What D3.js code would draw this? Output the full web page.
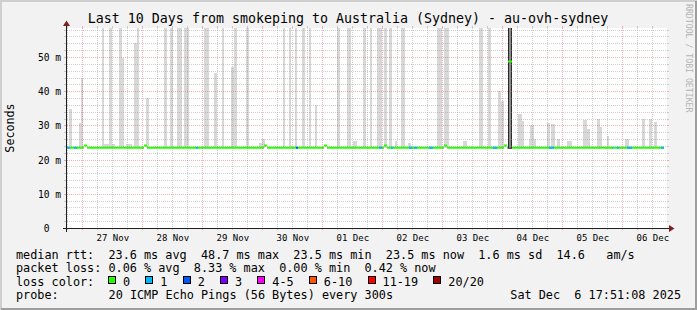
<!DOCTYPE html>
<html>
<head>
<meta charset="utf-8">
<script src="https://cdn.jsdelivr.net/npm/d3@7"></script>
<style>
body { margin: 0; background: #f2f2f2; }
svg { display: block; font-family: "DejaVu Sans Mono", monospace; }
text { white-space: pre; }
</style>
</head>
<body>
<script>
const WIDTH = 697;
const HEIGHT = 310;
const X0 = 67, X1 = 667, Y0 = 228, Y1 = 28;

// last sample: Sat Dec 6 17:51:08 2025, window of 10 days
const END = Date.UTC(2025, 11, 6, 17, 51, 8);
const START = END - 10 * 864e5;

var title = 'Last 10 Days from smokeping to Australia (Sydney) - au-ovh-sydney';
var dayLabels = ['27 Nov', '28 Nov', '29 Nov', '30 Nov', '01 Dec', '02 Dec', '03 Dec', '04 Dec', '05 Dec', '06 Dec'];
var yTicks = [0, 10, 20, 30, 40, 50];

// smoke: [from hour, to hour, highest ping ms], hours counted from START
var smokeMin = 23.3;
var smokeBars = [
  [0.8, 2.0, 34.8], [4.8, 5.6, 30.7], [5.6, 6.4, 44.0], [14.0, 14.8, 60],
  [14.8, 19.2, 24.6], [16.8, 18.0, 60], [20.8, 22.0, 60], [22.0, 22.8, 49.6],
  [23.6, 26.0, 24.6], [26.8, 28.0, 54.0], [28.0, 28.8, 60], [31.6, 32.8, 37.9],
  [38.8, 40.0, 60], [41.2, 42.4, 60], [44.0, 46.0, 60], [46.8, 48.8, 60],
  [54.8, 56.8, 60], [58.8, 60.0, 45.2], [62.0, 62.8, 60], [65.6, 66.8, 47.2],
  [66.8, 68.0, 60], [71.6, 72.8, 60], [76.8, 78.0, 24.9], [78.0, 79.2, 26.0],
  [86.4, 87.2, 60], [88.8, 89.6, 60], [91.2, 92.0, 60], [94.0, 95.2, 60],
  [96.8, 97.6, 60], [99.2, 100.0, 36.0], [108.0, 109.2, 60], [112.0, 113.6, 60],
  [114.4, 116.0, 25.3], [118.4, 119.6, 60], [121.2, 122.0, 60], [124.0, 126.0, 60],
  [126.8, 128.0, 60], [128.8, 130.0, 60], [131.2, 132.0, 25.3], [133.6, 135.2, 60],
  [136.4, 137.6, 25.0], [148.0, 150.0, 60], [150.8, 152.8, 60], [158.4, 160.0, 25.4],
  [164.8, 166.4, 60], [168.4, 169.6, 60], [172.4, 173.6, 40.0], [173.6, 174.8, 37.0],
  [180.4, 182.0, 33.3], [182.0, 182.8, 31.3], [184.8, 187.6, 26.0], [185.2, 186.8, 30.0],
  [192.0, 193.2, 30.6], [193.6, 195.2, 30.4], [196.0, 197.2, 26.0], [200.0, 202.0, 25.5],
  [206.4, 208.0, 31.5], [208.0, 209.2, 29.0], [212.0, 213.2, 32.0], [213.2, 214.0, 29.5],
  [216.0, 216.8, 27.0], [223.2, 224.8, 26.0], [230.0, 231.2, 32.0], [232.8, 234.0, 32.0],
  [234.8, 236.0, 31.0]
];
var denseSmoke = [[176.4, 178.0, 60]];

// median rtt steps: [hour, ms], each value holds until the next hour
var medianPoints = [
  [0, 23.5], [6.8, 24.1], [8.0, 23.5], [30.8, 24.1], [32.0, 23.5],
  [78.8, 24.1], [80.0, 23.5], [102.8, 24.1], [104.0, 23.5], [126.8, 24.1],
  [128.0, 23.5], [150.8, 24.1], [152.0, 23.5], [174.8, 24.1], [176.0, 23.5],
  [176.4, 48.7], [178.0, 23.5], [238.8, 23.5]
];
// pings lost: [from hour, to hour, lost count]
var lossSpans = [
  [0.0, 1.2, 1], [2.8, 4.0, 1], [51.6, 52.4, 1], [91.6, 92.4, 2],
  [124.8, 126.0, 1], [129.6, 130.4, 1], [136.8, 138.0, 1], [138.8, 140.0, 1],
  [144.8, 146.4, 1], [170.4, 172.0, 1], [192.8, 194.8, 1], [218.0, 218.4, 1],
  [220.0, 220.8, 1], [224.0, 226.0, 1], [237.6, 238.8, 1]
];
var lossLabels = ['0', '1', '2', '3', '4-5', '6-10', '11-19', '20/20'];
var lossColors = ['#26ff00', '#00b8ff', '#0059ff', '#7e00ff', '#ff00ff', '#ff5500', '#ff0000', '#a00000'];

var legendRtt = 'median rtt:  23.6 ms avg  48.7 ms max  23.5 ms min  23.5 ms now  1.6 ms sd  14.6   am/s';
var legendLoss = 'packet loss: 0.06 % avg  8.33 % max  0.00 % min  0.42 % now';
var probeText = '20 ICMP Echo Pings (56 Bytes) every 300s';
var stampText = 'Sat Dec  6 17:51:08 2025';

var hourDate = function (h) { return new Date(START + h * 36e5); };

var svg = d3.select('body').append('svg')
    .attr('width', WIDTH)
    .attr('height', HEIGHT);

// frame
svg.append('rect').attr('width', WIDTH).attr('height', HEIGHT).attr('fill', '#f2f2f2');
svg.append('path').attr('d', 'M1,' + HEIGHT + 'V1H' + WIDTH).attr('fill', 'none')
    .attr('stroke', '#cfcfcf').attr('stroke-width', 2);
svg.append('path').attr('d', 'M1,' + (HEIGHT - 1) + 'H' + (WIDTH - 1) + 'V1').attr('fill', 'none')
    .attr('stroke', '#9e9e9e').attr('stroke-width', 2);

var xScale = d3.scaleUtc().domain([START, END]).range([X0, X1]);
var yScale = d3.scaleLinear().domain([0, 200 / 3.42]).range([Y0, Y1]);

svg.append('rect')
    .attr('x', X0).attr('y', Y1)
    .attr('width', X1 - X0).attr('height', Y0 - Y1)
    .attr('fill', '#fff');

svg.append('clipPath').attr('id', 'plot')
    .append('rect').attr('x', X0).attr('y', Y1).attr('width', X1 - X0).attr('height', Y0 - Y1);

var plot = svg.append('g').attr('clip-path', 'url(#plot)');

plot.selectAll('rect.smoke')
    .data(smokeBars)
    .enter().append('rect')
    .classed('smoke', true)
    .attr('x', function (d) { return xScale(hourDate(d[0])); })
    .attr('width', function (d) { return xScale(hourDate(d[1])) - xScale(hourDate(d[0])); })
    .attr('y', function (d) { return yScale(d[2]); })
    .attr('height', function (d) { return yScale(smokeMin) - yScale(d[2]); })
    .attr('fill', '#d8d8d8')
    .attr('shape-rendering', 'crispEdges');

plot.selectAll('rect.dense')
    .data(denseSmoke)
    .enter().append('rect')
    .classed('dense', true)
    .attr('x', function (d) { return xScale(hourDate(d[0])) + 0.5; })
    .attr('width', function (d) { return xScale(hourDate(d[1])) - xScale(hourDate(d[0])) - 1; })
    .attr('y', function (d) { return yScale(d[2]); })
    .attr('height', function (d) { return yScale(smokeMin) - yScale(d[2]); })
    .attr('fill', '#8a8a8a')
    .attr('stroke', '#2a2a2a');

// grid
var gridMinor = 'rgba(143,143,143,0.42)';
var gridMajor = 'rgba(222,79,79,0.42)';
var grid = svg.append('g').attr('shape-rendering', 'crispEdges');

d3.range(2, 59, 2).forEach(function (v) {
  var yy = Math.round(yScale(v)) + 0.5;
  var col = v % 10 === 0 ? gridMajor : gridMinor;
  grid.append('line').attr('x1', X0).attr('x2', X1).attr('y1', yy).attr('y2', yy)
      .attr('stroke', col).attr('stroke-dasharray', '1,1');
  grid.append('line').attr('x1', X0 - 3).attr('x2', X0).attr('y1', yy).attr('y2', yy).attr('stroke', col);
  grid.append('line').attr('x1', X1).attr('x2', X1 + 2).attr('y1', yy).attr('y2', yy).attr('stroke', col);
});

d3.utcHour.every(6).range(new Date(START), new Date(END)).forEach(function (t) {
  var xx = Math.round(xScale(t)) + 0.5;
  var col = t.getUTCHours() === 0 ? gridMajor : gridMinor;
  grid.append('line').attr('x1', xx).attr('x2', xx).attr('y1', Y1).attr('y2', Y0)
      .attr('stroke', col).attr('stroke-dasharray', '1,1');
  grid.append('line').attr('x1', xx).attr('x2', xx).attr('y1', Y1 - 2).attr('y2', Y1).attr('stroke', col);
  grid.append('line').attr('x1', xx).attr('x2', xx).attr('y1', Y0).attr('y2', Y0 + 2).attr('stroke', col);
});

// median: one flat piece per step, coloured by loss
var line = d3.line()
    .x(function (d) { return xScale(hourDate(d[0])); })
    .y(function (d) { return yScale(d[1]); });
var medianPath = d3.pairs(medianPoints).map(function (p) {
  return line([[p[0][0], p[0][1]], [p[1][0], p[0][1]]]);
}).join('');

plot.append('path')
    .attr('d', medianPath)
    .attr('fill', 'none')
    .attr('stroke', lossColors[0])
    .attr('stroke-width', 2);

lossSpans.forEach(function (s, i) {
  var x0 = xScale(hourDate(s[0])), x1 = xScale(hourDate(s[1]));
  svg.append('clipPath').attr('id', 'loss' + i)
      .append('rect').attr('x', x0).attr('y', Y1).attr('width', x1 - x0).attr('height', Y0 - Y1);
  plot.append('path')
      .attr('d', medianPath)
      .attr('clip-path', 'url(#loss' + i + ')')
      .attr('fill', 'none')
      .attr('stroke', lossColors[s[2] >= 4 ? 4 : s[2]])
      .attr('stroke-width', 2);
});

// axes
var axisCol = '#1f1f1f';
var arrowCol = '#801f1f';
svg.append('line').attr('x1', X0 - 4).attr('x2', X1 + 4).attr('y1', Y0 + 0.5).attr('y2', Y0 + 0.5).attr('stroke', axisCol);
svg.append('line').attr('x1', X0 - 0.5).attr('x2', X0 - 0.5).attr('y1', Y0 + 4).attr('y2', Y1 - 4).attr('stroke', axisCol);
svg.append('path').attr('d', 'M' + (X1 + 2) + ',' + (Y0 - 3) + 'L' + (X1 + 2) + ',' + (Y0 + 4) + 'L' + (X1 + 7.5) + ',' + (Y0 + 0.5) + 'Z')
    .attr('fill', arrowCol);
svg.append('path').attr('d', 'M' + (X0 - 4) + ',' + (Y1 - 2) + 'L' + (X0 + 3) + ',' + (Y1 - 2) + 'L' + (X0 - 0.5) + ',' + (Y1 - 7.5) + 'Z')
    .attr('fill', arrowCol);

var xAxis = d3.axisBottom(xScale)
    .tickValues(dayLabels.map(function (l, i) { return new Date(Date.UTC(2025, 10, 27 + i, 12)); }))
    .tickSize(0)
    .tickPadding(0)
    .tickFormat(function (d, i) { return dayLabels[i]; });
var gx = svg.append('g').attr('transform', 'translate(0,' + Y0 + ')').call(xAxis);
gx.select('.domain').remove();
gx.selectAll('text').attr('y', 12.7).attr('dy', null)
    .attr('font-family', '"DejaVu Sans Mono", monospace').attr('font-size', 9).attr('fill', '#000');

var yAxis = d3.axisLeft(yScale)
    .tickValues(yTicks)
    .tickSize(0)
    .tickPadding(0)
    .tickFormat(function (d) { return d === 0 ? '0  ' : d + ' m'; });
var gy = svg.append('g').attr('transform', 'translate(61,0)').call(yAxis);
gy.select('.domain').remove();
gy.selectAll('text').attr('dy', '0.36em')
    .attr('font-family', '"DejaVu Sans Mono", monospace').attr('font-size', 9.6).attr('fill', '#000');

svg.append('text')
    .attr('transform', 'translate(14,128) rotate(-90)')
    .attr('text-anchor', 'middle')
    .attr('font-size', 11.7)
    .text('Seconds');

svg.append('text')
    .attr('x', 348).attr('y', 23)
    .attr('text-anchor', 'middle')
    .attr('font-size', 13.3)
    .text(title);

svg.append('text')
    .attr('transform', 'translate(686,4) rotate(90)')
    .attr('font-size', 8.2)
    .attr('fill', '#b4b4b4')
    .text('RRDTOOL / TOBI OETIKER');

// legend
var CW = 7.12;
var LX = 16;
var legend = svg.append('g').attr('font-size', 11.82).attr('fill', '#000');
legend.append('text').attr('x', LX).attr('y', 258.5).text(legendRtt);
legend.append('text').attr('x', LX).attr('y', 272).text(legendLoss);
legend.append('text').attr('x', LX).attr('y', 285.5).text('loss color:');
legend.append('text').attr('x', LX).attr('y', 299).text('probe:');
legend.append('text').attr('x', LX + 13 * CW).attr('y', 299).text(probeText);
legend.append('text').attr('x', 681).attr('y', 299).attr('text-anchor', 'end').text(stampText);

var bx = 108;
lossLabels.forEach(function (l, i) {
  legend.append('rect')
      .attr('x', Math.round(bx) + 0.5).attr('y', 276.5)
      .attr('width', 7).attr('height', 7)
      .attr('fill', lossColors[i]).attr('stroke', '#000');
  legend.append('text').attr('x', bx + 15).attr('y', 285.5).text(l);
  bx += 15 + l.length * CW + 15.2;
});
</script>
</body>
</html>
